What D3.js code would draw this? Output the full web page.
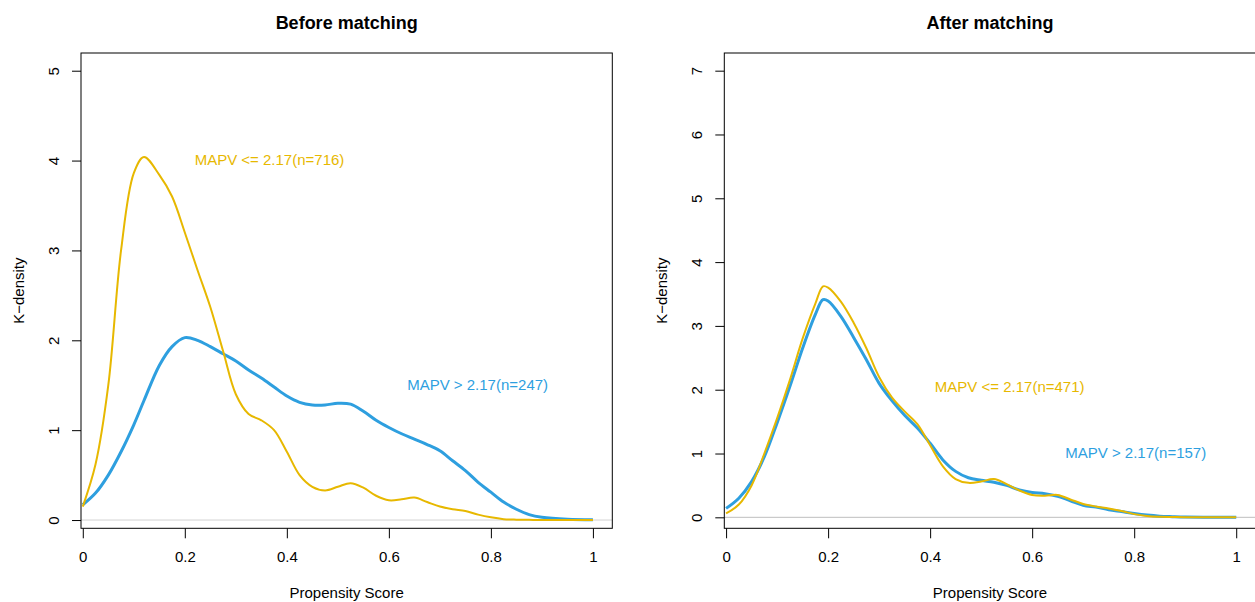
<!DOCTYPE html>
<html>
<head>
<meta charset="utf-8">
<script src="https://cdn.jsdelivr.net/npm/d3@7"></script>
<style>
  body { margin: 0; background: #fff; }
  text { font-family: "Liberation Sans", Arial, Helvetica, sans-serif; }
</style>
</head>
<body>
<svg id="chart" width="1255" height="602"></svg>
<script>
// propensity score grid + K-density readings, before matching
var beforeX = [0,0.025,0.05,0.075,0.1,0.12,0.15,0.175,0.2,0.225,0.25,0.275,0.3,0.325,0.35,0.375,0.4,0.425,0.45,0.475,0.5,0.525,0.55,0.575,0.6,0.625,0.65,0.675,0.7,0.725,0.75,0.775,0.8,0.825,0.85,0.875,0.9,0.95,1];
var beforeLow = [0.15,0.62,1.5,3.0,3.86,4.04,3.84,3.6,3.2,2.78,2.37,1.88,1.4,1.18,1.11,1.0,0.76,0.5,0.37,0.33,0.37,0.41,0.36,0.27,0.22,0.23,0.25,0.2,0.15,0.12,0.1,0.06,0.03,0.01,0.004,0.002,0.001,0,0];
var beforeHigh = [0.17,0.3,0.5,0.76,1.06,1.33,1.72,1.93,2.03,2.0,1.93,1.85,1.77,1.67,1.58,1.48,1.38,1.31,1.28,1.28,1.3,1.29,1.21,1.11,1.03,0.96,0.9,0.84,0.77,0.66,0.55,0.42,0.31,0.2,0.12,0.06,0.03,0.008,0.003];

// after matching
var afterX = [0,0.025,0.05,0.075,0.1,0.125,0.15,0.175,0.19,0.2,0.225,0.25,0.275,0.3,0.325,0.35,0.375,0.4,0.425,0.45,0.475,0.5,0.525,0.55,0.575,0.6,0.625,0.65,0.675,0.7,0.725,0.75,0.775,0.8,0.825,0.85,0.875,0.9,0.95,1];
var afterLow = [0.06,0.2,0.5,1.0,1.55,2.15,2.8,3.35,3.62,3.6,3.38,3.05,2.65,2.2,1.88,1.66,1.46,1.13,0.8,0.6,0.54,0.56,0.6,0.52,0.42,0.35,0.34,0.35,0.28,0.21,0.17,0.14,0.1,0.05,0.02,0.008,0.004,0.002,0,0];
var afterHigh = [0.14,0.3,0.56,0.95,1.48,2.05,2.65,3.18,3.41,3.39,3.15,2.82,2.47,2.1,1.83,1.6,1.4,1.16,0.9,0.72,0.62,0.58,0.55,0.5,0.43,0.39,0.37,0.33,0.26,0.19,0.16,0.12,0.09,0.06,0.035,0.018,0.01,0.004,0.002,0.001];

var xTicks = [0, 0.2, 0.4, 0.6, 0.8, 1];
var yTicksBefore = [0, 1, 2, 3, 4, 5];
var yTicksAfter = [0, 1, 2, 3, 4, 5, 6, 7];

var lowColor = "#E7B800";
var highColor = "#2E9FDF";

var svg = d3.select("#chart");

var drawPanel = function(opt) {
  var left = opt.left, top = 53, w = 531.3, h = 475.3;
  var x = d3.scaleLinear().domain([-0.0035, 1.038]).range([left, left + w]);
  var y = d3.scaleLinear().domain(opt.ydom).range([top + h, top]);
  var g = svg.append("g");

  // zero line
  g.append("line")
    .attr("x1", left).attr("x2", left + w)
    .attr("y1", y(0)).attr("y2", y(0))
    .style("stroke", opt.zeroCol).style("stroke-width", 1);

  var line = d3.line()
    .x(function(d) { return x(d[0]); })
    .y(function(d) { return y(Math.max(0, d[1])); })
    .curve(d3.curveCatmullRom.alpha(0.5));

  g.append("path")
    .datum(d3.zip(opt.xs, opt.high))
    .attr("d", line)
    .style("fill", "none").style("stroke", highColor).style("stroke-width", 3);
  g.append("path")
    .datum(d3.zip(opt.xs, opt.low))
    .attr("d", line)
    .style("fill", "none").style("stroke", lowColor).style("stroke-width", 2);

  // box
  g.append("rect")
    .attr("x", left).attr("y", top).attr("width", w).attr("height", h)
    .style("fill", "none").style("stroke", "#000").style("stroke-width", 1);

  var xa = g.append("g")
    .attr("transform", "translate(0," + (top + h) + ")")
    .call(d3.axisBottom(x).tickValues(xTicks).tickSize(10).tickSizeOuter(0).tickPadding(13)
      .tickFormat(function(d) { return String(d); }));
  xa.select(".domain").remove();
  xa.selectAll("line").style("stroke", "#000");
  xa.selectAll("text").style("font-size", "15px").style("fill", "#000");

  var ya = g.append("g")
    .attr("transform", "translate(" + left + ",0)")
    .call(d3.axisLeft(y).tickValues(opt.yticks).tickSize(9).tickSizeOuter(0)
      .tickFormat(function(d) { return String(d); }));
  ya.select(".domain").remove();
  ya.selectAll("line").style("stroke", "#000");
  ya.selectAll("text")
    .attr("x", 0).attr("y", -22).attr("dy", 0)
    .attr("transform", "rotate(-90)")
    .style("text-anchor", "middle")
    .style("font-size", "15px").style("fill", "#000");

  svg.append("text")
    .attr("x", left + w / 2).attr("y", 29)
    .style("text-anchor", "middle").style("font-size", "18px").style("font-weight", "bold")
    .text(opt.title);

  svg.append("text")
    .attr("x", left + w / 2).attr("y", 598)
    .style("text-anchor", "middle").style("font-size", "15px")
    .text("Propensity Score");

  svg.append("text")
    .attr("transform", "translate(" + (left - 57.5) + "," + (top + h / 2) + ") rotate(-90)")
    .style("text-anchor", "middle").style("font-size", "15px")
    .text("K\u2212density");

  opt.labels.forEach(function(l) {
    svg.append("text")
      .attr("x", x(l.x)).attr("y", y(l.y))
      .attr("dy", "0.35em")
      .style("text-anchor", "middle").style("font-size", "15px")
      .style("fill", l.col)
      .text(l.text);
  });
};

drawPanel({
  left: 81, ydom: [-0.092, 5.197], yticks: yTicksBefore, zeroCol: "#d3d3d3",
  title: "Before matching", xs: beforeX, low: beforeLow, high: beforeHigh,
  labels: [
    { x: 0.366, y: 4.01, text: "MAPV <= 2.17(n=716)", col: lowColor },
    { x: 0.774, y: 1.51, text: "MAPV > 2.17(n=247)", col: highColor }
  ]
});

drawPanel({
  left: 724.3, ydom: [-0.172, 7.277], yticks: yTicksAfter, zeroCol: "#bebebe",
  title: "After matching", xs: afterX, low: afterLow, high: afterHigh,
  labels: [
    { x: 0.556, y: 2.04, text: "MAPV <= 2.17(n=471)", col: lowColor },
    { x: 0.803, y: 1.01, text: "MAPV > 2.17(n=157)", col: highColor }
  ]
});
</script>
</body>
</html>
